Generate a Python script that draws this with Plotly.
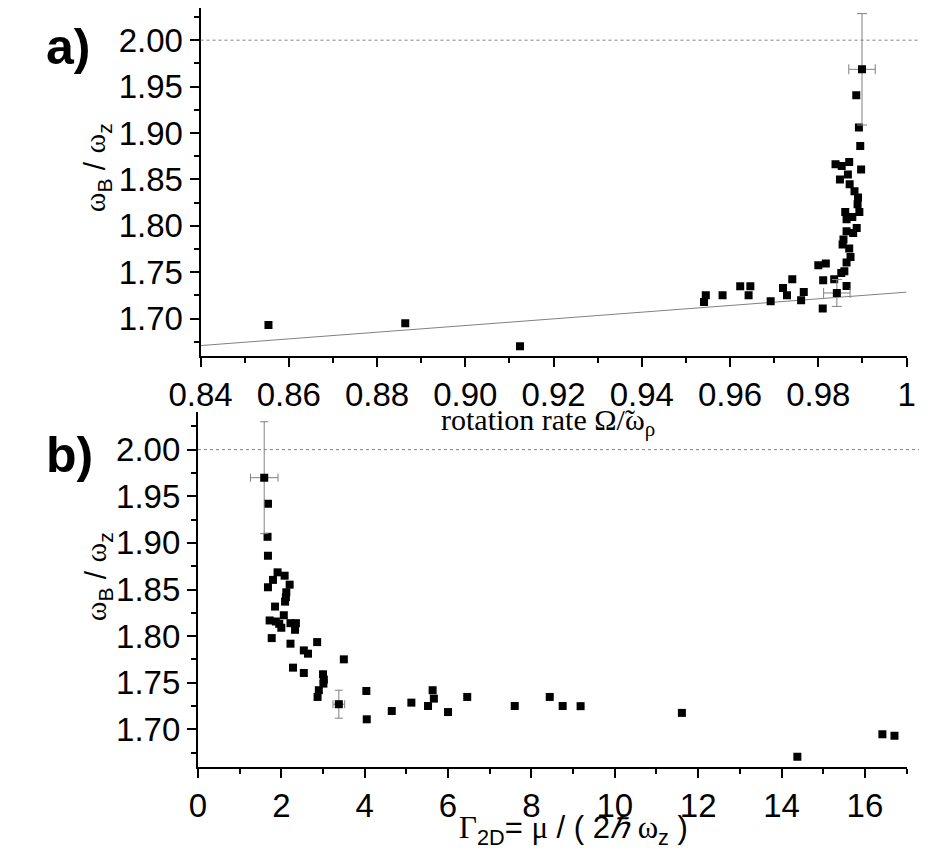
import plotly.graph_objects as go

# ---------------- data : panel a) omega_B/omega_z vs rotation rate ----------------
rot_rate = [0.8554, 0.8864, 0.9124,
            0.9545, 0.9541, 0.9583, 0.9623, 0.9646, 0.9642, 0.9692, 0.9720, 0.9729,
            0.9741, 0.9767, 0.9761,
            0.9886, 0.9892, 0.9895, 0.9839, 0.9853, 0.9870, 0.9897, 0.9849, 0.9867,
            0.9871, 0.9882, 0.9890, 0.9889, 0.9861, 0.9893, 0.9877, 0.9864, 0.9887,
            0.9864, 0.9879, 0.9857, 0.9855, 0.9870, 0.9873, 0.9864, 0.9800, 0.9817,
            0.9859, 0.9852, 0.9836, 0.9811, 0.9864, 0.9810]
ratio_a = [1.6931, 1.6949, 1.6702,
           1.7251, 1.7179, 1.7251, 1.7348, 1.7348, 1.7251, 1.7186, 1.7330, 1.7251,
           1.7423, 1.7287, 1.7197,
           1.9406, 1.9058, 1.8860, 1.8663, 1.8644, 1.8688, 1.8606, 1.8498, 1.8552,
           1.8447, 1.8372, 1.8304, 1.8232, 1.8149, 1.8149, 1.8095, 1.8070, 1.7976,
           1.7941, 1.7922, 1.7851, 1.7797, 1.7754, 1.7664, 1.7603, 1.7574, 1.7593,
           1.7510, 1.7491, 1.7423, 1.7413, 1.7351, 1.7108]
# points carrying error bars
rot_rate_err = [0.9899, 0.9842]
ratio_a_err = [1.9686, 1.7276]
rot_rate_xerr = [0.003, 0.003]
ratio_a_yerr = [0.060, 0.0145]
# linear fit line
fit_x = [0.84, 1.00]
fit_y = [1.6709, 1.7285]

# ---------------- data : panel b) omega_B/omega_z vs Gamma_2D ----------------
gamma_2d = [1.68, 1.67, 1.68, 1.91, 2.08, 1.80, 1.68, 2.20, 2.12, 2.11, 2.09, 1.85,
            2.06, 1.72, 1.87, 1.95, 2.22, 2.35, 2.00, 2.33, 1.77, 2.22, 2.86, 2.54,
            2.64, 3.50, 2.28, 2.54, 3.00, 3.02, 3.01, 2.90, 2.87,
            4.04, 5.63, 4.05, 4.65, 5.12, 5.52, 5.66, 6.00, 6.46, 7.60, 8.44, 8.75,
            9.18, 11.61, 14.38, 16.42, 16.71]
ratio_b = [1.9420, 1.9065, 1.8862, 1.8684, 1.8648, 1.8603, 1.8524, 1.8552, 1.8470,
           1.8417, 1.8370, 1.8317, 1.8224, 1.8168, 1.8157, 1.8132, 1.8139, 1.8139,
           1.8090, 1.8068, 1.7979, 1.7919, 1.7936, 1.7847, 1.7812, 1.7751, 1.7662,
           1.7605, 1.7591, 1.7534, 1.7491, 1.7420, 1.7348,
           1.7412, 1.7420, 1.7108, 1.7197, 1.7287, 1.7251, 1.7330, 1.7186, 1.7348,
           1.7251, 1.7348, 1.7251, 1.7249, 1.7177, 1.6707, 1.6947, 1.6932]
gamma_2d_err = [1.59, 3.38]
ratio_b_err = [1.9699, 1.7270]
gamma_2d_xerr = [0.33, 0.14]
ratio_b_yerr = [0.060, 0.015]

# ---------------- ticks ----------------
y_ticks = [1.70, 1.75, 1.80, 1.85, 1.90, 1.95, 2.00]
y_ticktext = ["1.70", "1.75", "1.80", "1.85", "1.90", "1.95", "2.00"]
y_minor = [1.675, 1.725, 1.775, 1.825, 1.875, 1.925, 1.975, 2.025]
xa_ticks = [0.84, 0.86, 0.88, 0.90, 0.92, 0.94, 0.96, 0.98, 1.00]
xa_ticktext = ["0.84", "0.86", "0.88", "0.90", "0.92", "0.94", "0.96", "0.98", "1"]
xa_minor = [0.85, 0.87, 0.89, 0.91, 0.93, 0.95, 0.97, 0.99]
xb_ticks = [0, 2, 4, 6, 8, 10, 12, 14, 16]
xb_minor = [1, 3, 5, 7, 9, 11, 13, 15, 17]

# the page body has an 8px default margin: lay out in screen pixels minus that offset
OFF = 8
W, H = 928 - OFF, 855 - OFF
TICKFONT = dict(family="Liberation Sans, Arial, sans-serif", size=33, color="black")
GRAY = "#808080"

fig = go.Figure()

# panel a
fig.add_trace(go.Scatter(x=fit_x, y=fit_y, mode="lines",
                         line=dict(color=GRAY, width=1), xaxis="x", yaxis="y",
                         showlegend=False, hoverinfo="skip"))
fig.add_trace(go.Scatter(x=rot_rate, y=ratio_a, mode="markers",
                         marker=dict(symbol="square", size=8, color="black"),
                         xaxis="x", yaxis="y", showlegend=False))
fig.add_trace(go.Scatter(x=rot_rate_err, y=ratio_a_err, mode="markers",
                         marker=dict(symbol="square", size=8, color="black"),
                         error_x=dict(type="data", array=rot_rate_xerr, color=GRAY,
                                      thickness=1, width=5),
                         error_y=dict(type="data", array=ratio_a_yerr, color=GRAY,
                                      thickness=1, width=5),
                         xaxis="x", yaxis="y", showlegend=False))
# panel b
fig.add_trace(go.Scatter(x=gamma_2d, y=ratio_b, mode="markers",
                         marker=dict(symbol="square", size=8, color="black"),
                         xaxis="x2", yaxis="y2", showlegend=False))
fig.add_trace(go.Scatter(x=gamma_2d_err, y=ratio_b_err, mode="markers",
                         marker=dict(symbol="square", size=8, color="black"),
                         error_x=dict(type="data", array=gamma_2d_xerr, color=GRAY,
                                      thickness=1, width=4),
                         error_y=dict(type="data", array=ratio_b_yerr, color=GRAY,
                                      thickness=1, width=4),
                         xaxis="x2", yaxis="y2", showlegend=False))


def px_x(p):
    return min(1.0, max(0.0, (p - OFF) / W))


def px_y(p):
    return min(1.0, max(0.0, 1 - (p - OFF) / H))


common = dict(showline=True, linecolor="black", linewidth=2, ticks="outside",
              ticklen=9, tickwidth=2, tickcolor="black", showgrid=False,
              zeroline=False, tickfont=TICKFONT, mirror=False)
minor_common = dict(tickmode="array", ticks="outside", ticklen=5, tickwidth=2,
                    tickcolor="black")

# panel a: 1.66 at y=355.7px, ~928 px per unit; top clipped at the page offset
ya_top = 1.66 + (355.7 - OFF) / 928.0

fig.update_layout(
    width=W, height=H,
    margin=dict(l=0, r=0, t=0, b=0),
    paper_bgcolor="white", plot_bgcolor="white",
    xaxis=dict(domain=[px_x(176), px_x(915)], range=[0.84, 1.0], anchor="y",
               tickmode="array", tickvals=xa_ticks, ticktext=xa_ticktext,
               minor=dict(tickvals=xa_minor, **minor_common), **common),
    yaxis=dict(domain=[px_y(355.7), 1.0], range=[1.66, ya_top], anchor="x",
               tickmode="array", tickvals=y_ticks, ticktext=y_ticktext,
               minor=dict(tickvals=y_minor, **minor_common), **common),
    xaxis2=dict(domain=[px_x(173.3), px_x(915)], range=[0, 17], anchor="y2",
                tickmode="array", tickvals=xb_ticks,
                ticktext=[str(v) for v in xb_ticks],
                minor=dict(tickvals=xb_minor, **minor_common), **common),
    yaxis2=dict(domain=[px_y(766.7), px_y(412.3)], range=[1.66, 2.04], anchor="x2",
                tickmode="array", tickvals=y_ticks, ticktext=y_ticktext,
                minor=dict(tickvals=y_minor, **minor_common), **common),
)

# dotted reference lines at 2.00
for yref, x0 in (("y", px_x(176)), ("y2", px_x(173.3))):
    fig.add_shape(type="line", xref="paper", yref=yref, x0=x0, x1=1.0, y0=2.0, y1=2.0,
                  line=dict(color=GRAY, width=1, dash="3px,3px"))

SANS = "Liberation Sans, Arial, sans-serif"
SERIF = "Liberation Serif, Times New Roman, serif"


def serif(t):
    return "<span style='font-family:Liberation Serif, Times New Roman, serif'>" + t + "</span>"


ytitle = serif("ω") + "<sub>B</sub> / " + serif("ω") + "<sub>z</sub>"
gtitle = (serif("Γ") + "<sub>2D</sub>= " + serif("μ") + " / ( 2<i>" + serif("ℏ") + "</i> "
          + serif("ω") + "<sub>z</sub> )")

annotations = [
    dict(text="<b>a)</b>", x=px_x(12), y=px_y(47), xanchor="left", yanchor="middle",
         font=dict(family=SANS, size=50, color="black")),
    dict(text="<b>b)</b>", x=px_x(12), y=px_y(455), xanchor="left", yanchor="middle",
         font=dict(family=SANS, size=50, color="black")),
    dict(text=ytitle, x=px_x(68), y=px_y(168), textangle=-90,
         xanchor="center", yanchor="middle", font=dict(family=SANS, size=30, color="black")),
    dict(text=ytitle, x=px_x(68), y=px_y(577), textangle=-90,
         xanchor="center", yanchor="middle", font=dict(family=SANS, size=30, color="black")),
    dict(text="rotation rate Ω/\u0303ω<sub>ρ</sub>", x=px_x(540), y=px_y(422),
         xanchor="center", yanchor="middle", font=dict(family=SERIF, size=30, color="black")),
    dict(text=gtitle, x=px_x(566), y=px_y(830),
         xanchor="center", yanchor="middle", font=dict(family=SANS, size=31, color="black")),
]
for a in annotations:
    a.update(xref="paper", yref="paper", showarrow=False)
fig.update_layout(annotations=annotations)

fig.write_html("out.html")
